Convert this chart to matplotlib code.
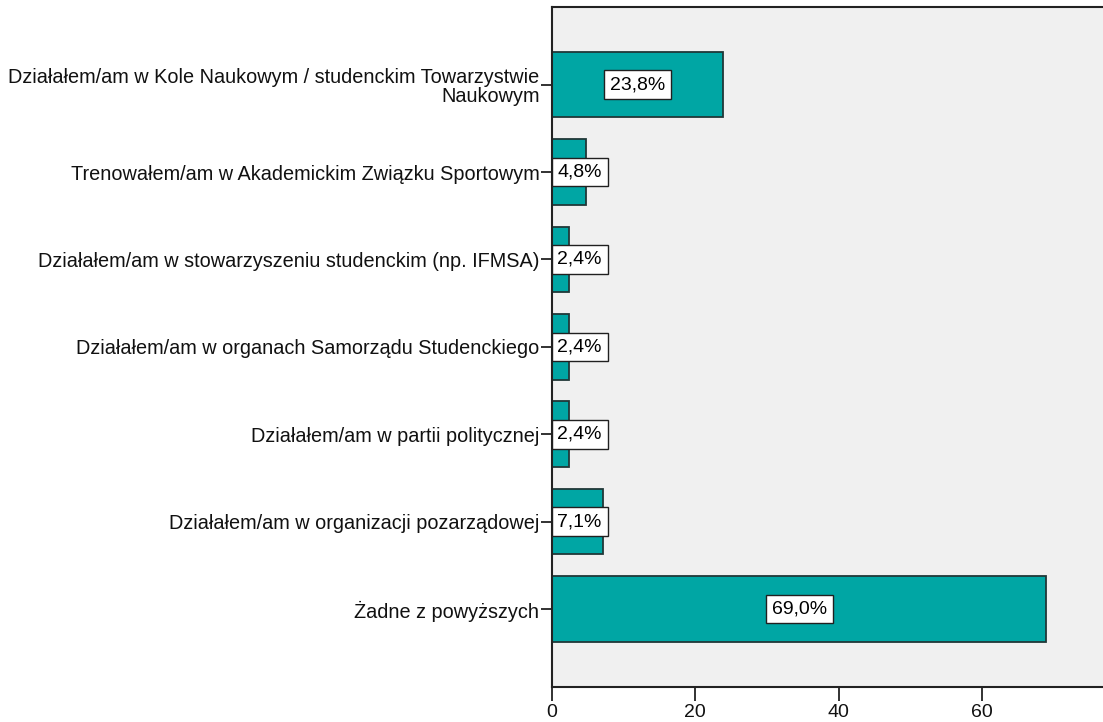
import matplotlib
matplotlib.use("Agg")
import matplotlib.pyplot as plt

categories = [
    "Działałem/am w Kole Naukowym / studenckim Towarzystwie\nNaukowym",
    "Trenowałem/am w Akademickim Związku Sportowym",
    "Działałem/am w stowarzyszeniu studenckim (np. IFMSA)",
    "Działałem/am w organach Samorządu Studenckiego",
    "Działałem/am w partii politycznej",
    "Działałem/am w organizacji pozarządowej",
    "Żadne z powyższych",
]
values = [23.8, 4.8, 2.4, 2.4, 2.4, 7.1, 69.0]
labels = ["23,8%", "4,8%", "2,4%", "2,4%", "2,4%", "7,1%", "69,0%"]
xticks = [0, 20, 40, 60]

plt.rcParams['font.family'] = ['Liberation Sans', 'DejaVu Sans']

fig = plt.figure(figsize=(11.03, 7.22), dpi=100)
ax = fig.add_axes([552 / 1103, 1 - 686.7 / 722, 1 - 552 / 1103, (686.7 - 7) / 722])
ax.set_facecolor('#f0f0f0')

ypos = list(range(len(categories)))
ax.barh(ypos, values, height=0.75, color='#00a6a4', edgecolor='#203838', linewidth=1.3, zorder=2)

box = dict(boxstyle='square,pad=0.3', facecolor='white', edgecolor='#202020', linewidth=1.0)
for y, v, lab in zip(ypos, values, labels):
    if v / 2 < 4.5:
        ax.text(0.75, y, lab, ha='left', va='center', fontsize=14, zorder=3, bbox=box)
    else:
        ax.text(v / 2, y, lab, ha='center', va='center', fontsize=14, zorder=3, bbox=box)

ax.set_ylim(len(categories) - 1 + 0.888, -0.888)
ax.set_xlim(0, 76.9)
ax.set_yticks(ypos)
ax.set_yticklabels(categories, fontsize=14.3, color='#111111', linespacing=1.05)
ax.set_xticks(xticks)
ax.set_xticklabels([str(t) for t in xticks], fontsize=14, color='#111111')
ax.tick_params(axis='y', length=8, width=1.3, color='#222222', pad=1)
ax.tick_params(axis='x', length=10, width=1.3, color='#222222', pad=2.5)

for s in ['left', 'bottom', 'top']:
    ax.spines[s].set_color('#222222')
    ax.spines[s].set_linewidth(1.5)
ax.spines['right'].set_visible(False)

fig.savefig('out.png', dpi=100, facecolor='white')
